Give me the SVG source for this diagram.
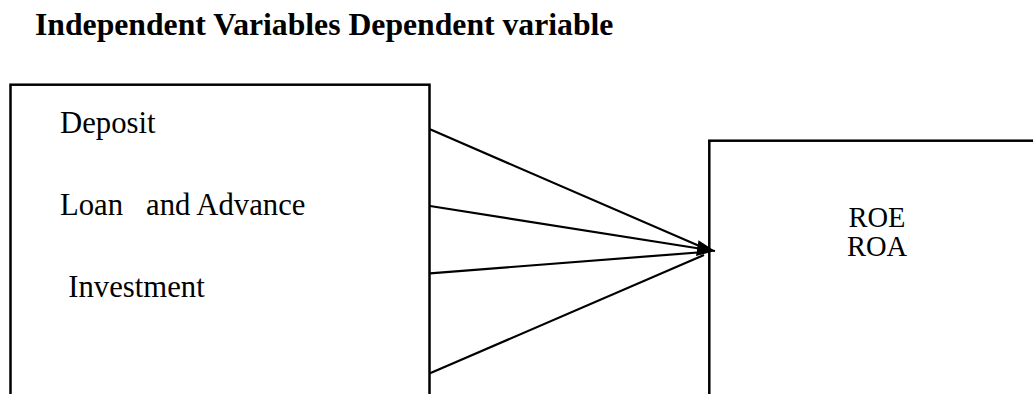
<svg xmlns="http://www.w3.org/2000/svg" width="1033" height="394" viewBox="0 0 1033 394">
<style>
.box{fill:#fff;stroke:#000;stroke-width:2.5}
.t{font-family:"Liberation Serif","Times New Roman",serif;font-size:30.7px;fill:#000}
.r{font-family:"Liberation Serif","Times New Roman",serif;font-size:28.5px;fill:#000}
.title{font-family:"Liberation Serif","Times New Roman",serif;font-size:31.7px;font-weight:bold;fill:#000}
.c{stroke:#000;stroke-width:2.2;fill:none}
</style>
<defs>
<marker id="ah" viewBox="0 0 18 16" refX="18" refY="8" markerUnits="userSpaceOnUse" markerWidth="18" markerHeight="16" orient="auto">
<path d="M0,0 L18,8 L0,16 Z" fill="#000"/>
</marker>
</defs>
<rect width="1033" height="394" fill="#fff"/>
<text class="title" x="35" y="34.5">Independent Variables Dependent variable</text>
<g id="independent">
<rect class="box" x="10.5" y="84.7" width="419" height="340"/>
<text class="t" x="60" y="133.3">Deposit</text>
<text class="t" x="60" y="215" xml:space="preserve">Loan   and Advance</text>
<text class="t" x="68.3" y="296.7">Investment</text>
</g>
<g id="dependent">
<rect class="box" x="709.3" y="140.7" width="400" height="300"/>
<text class="r" x="877" y="226.7" text-anchor="middle">ROE</text>
<text class="r" x="877" y="256" text-anchor="middle">ROA</text>
</g>
<g id="connectors">
<line class="c" x1="430" y1="129.3" x2="704" y2="248"/>
<line class="c" x1="430" y1="206" x2="715" y2="251" marker-end="url(#ah)"/>
<line class="c" x1="430" y1="273.3" x2="704" y2="252"/>
<line class="c" x1="430" y1="373.3" x2="704" y2="255"/>
</g>
</svg>
